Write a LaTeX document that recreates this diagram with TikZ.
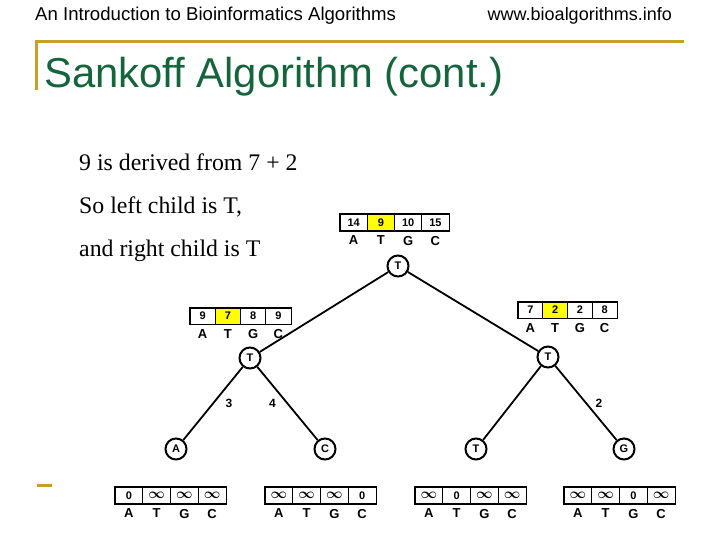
\documentclass[tikz,border=0pt]{standalone}
\usepackage{fontspec}
\usepackage{amsmath}
\setmainfont{Liberation Serif}
\setsansfont{Liberation Sans}
\usetikzlibrary{positioning}
\definecolor{slidegold}{RGB}{200,160,40}
\definecolor{slidegreen}{RGB}{20,100,60}
\definecolor{hilite}{RGB}{255,255,0}

\newcommand{\infcell}{{\fontsize{14}{14}\selectfont$\boldsymbol{\infty}$}}
% cost table: name, left x, centre y, cell width, value/fill list
\newcommand{\costtable}[5]{%
  \foreach \v/\f [count=\i] in {#5} {
    \node[cell, minimum width=#4pt, fill=\f] (#1-\i) at ({#2+(\i-0.5)*#4},#3) {\v};
  }
  \draw[line width=1.5pt] (#1-1.north west) rectangle (#1-4.south east);
  \foreach \b [count=\i] in {A,T,G,C}
    \node[base] (#1-b\i) [below=5pt of #1-\i] {\b};
}

\begin{document}
\begin{tikzpicture}[x=1pt, y=-1pt,
  cell/.style={draw, line width=0.7pt, minimum height=16pt, inner sep=0pt,
    font=\sffamily\bfseries\fontsize{11}{11}\selectfont},
  base/.style={inner sep=0pt, font=\sffamily\bfseries\fontsize{13}{13}\selectfont},
  state/.style={draw, circle, line width=2pt, minimum size=21pt, inner sep=0pt,
    fill=white, font=\sffamily\bfseries\fontsize{11}{11}\selectfont},
  edge/.style={line width=1.8pt},
  elabel/.style={inner sep=0pt, font=\sffamily\bfseries\fontsize{12}{12}\selectfont},
  bodytext/.style={anchor=base west, inner sep=0pt, font=\fontsize{23.8}{23.8}\selectfont}]
  \useasboundingbox (0,0) rectangle (720,540);
  % slide frame
  \node[anchor=base west, inner sep=0pt, font=\sffamily\fontsize{18.6}{18.6}\selectfont]
    (hdl) at (35,21) {An Introduction to Bioinformatics Algorithms};
  \node[anchor=base east, inner sep=0pt, font=\sffamily\fontsize{18}{18}\selectfont]
    (hdr) at (672,21) {www.bioalgorithms.info};
  \coordinate (G1) at (35,42); \coordinate (G2) at (684,42);
  \coordinate (G3) at (36.5,90); \coordinate (G4) at (36.5,485);
  \coordinate (G5) at (52,485);
  \draw[slidegold, line width=3pt] (G1)--(G2);
  \draw[slidegold, line width=3pt] (36.5,40.5)--(G3);
  \draw[slidegold, line width=3pt] (G4)--(G5);
  \node[anchor=base west, inner sep=0pt, text=slidegreen,
    font=\sffamily\fontsize{41.8}{41.8}\selectfont] (title) at (44,88) {Sankoff Algorithm (cont.)};
  % explanation
  \node[bodytext] (l1) at (79,171) {9 is derived from 7 + 2};
  \node[bodytext] (l2) at (79,214) {So left child is T,};
  \node[bodytext] (l3) at (79,256) {and right child is T};
  % tree
  \node[state] (rt) at (398,266) {T};
  \node[state] (lt) at (250,358) {T};
  \node[state] (rr) at (548,357) {T};
  \node[state] (la) at (176,449) {A};
  \node[state] (lc) at (325,449) {C};
  \node[state] (ra) at (476,449) {T};
  \node[state] (rg) at (624,449) {G};
  \draw[edge] (rt)--(lt);
  \draw[edge] (rt)--(rr);
  \draw[edge] (lt)-- node[elabel, xshift=16pt] {3} (la);
  \draw[edge] (lt)-- node[elabel, xshift=-15pt] {4} (lc);
  \draw[edge] (rr)--(ra);
  \draw[edge] (rr)-- node[elabel, xshift=13pt] {2} (rg);
  % cost tables
  \costtable{troot}{340}{222.5}{27.25}{14/white,9/hilite,10/white,15/white}
  \costtable{tleft}{190}{316}{25.25}{9/white,7/hilite,8/white,9/white}
  \costtable{tright}{518}{310}{24.75}{7/white,2/hilite,2/white,8/white}
  \costtable{tla}{115}{495.5}{27.75}{0/white,\infcell/white,\infcell/white,\infcell/white}
  \costtable{tlc}{265}{495.5}{27.75}{\infcell/white,\infcell/white,\infcell/white,0/white}
  \costtable{tra}{415}{495.5}{27.75}{\infcell/white,0/white,\infcell/white,\infcell/white}
  \costtable{trg}{564}{495.5}{27.75}{\infcell/white,\infcell/white,0/white,\infcell/white}
\end{tikzpicture}
\end{document}
